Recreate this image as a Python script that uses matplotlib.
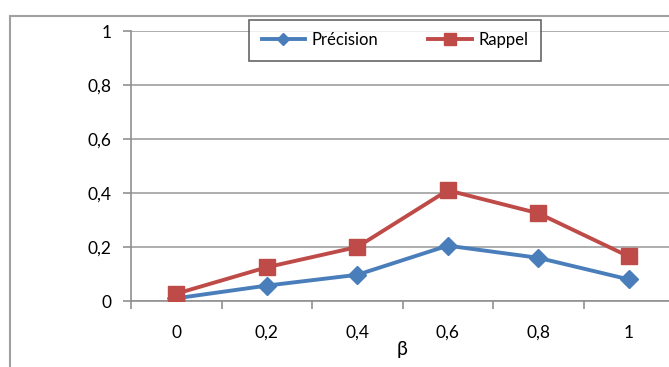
import numpy as np
import matplotlib
matplotlib.use("Agg")
import matplotlib.pyplot as plt
from matplotlib.patches import Rectangle

# data
beta_labels = ["0", "0,2", "0,4", "0,6", "0,8", "1"]
precision = [0.01, 0.057, 0.097, 0.205, 0.160, 0.080]
rappel = [0.027, 0.125, 0.200, 0.410, 0.325, 0.165]
y_ticks = [0, 0.2, 0.4, 0.6, 0.8, 1]
y_labels = ["0", "0,2", "0,4", "0,6", "0,8", "1"]

plt.rcParams['font.family'] = ['Lato', 'DejaVu Sans']

W, H = 669, 367
fig = plt.figure(figsize=(W / 100, H / 100), dpi=100)

# outer chart frame (cut off on the right and bottom)
fig.patches.append(Rectangle((10 / W, -0.1), 1.2, 1 - 16 / H + 0.1,
                             transform=fig.transFigure, fill=False,
                             edgecolor="#a0a0a0", linewidth=1.5))

ax = fig.add_axes([131 / W, (H - 301) / H, (674 - 131) / W, 270 / H])
x = np.arange(len(beta_labels))

blue = "#4a7ebb"
red = "#be4b48"
ax.plot(x, precision, color=blue, linewidth=2.8, marker="D", markersize=9,
        label="Précision", zorder=3)
ax.plot(x, rappel, color=red, linewidth=2.8, marker="s", markersize=11.5,
        label="Rappel", zorder=4)

ax.set_xlim(-0.5, len(beta_labels) - 0.5)
ax.set_ylim(0, 1)
ax.set_yticks(y_ticks)
ax.set_yticklabels(y_labels, fontsize=12.5)
ax.yaxis.grid(True, color="#a0a0a0", linewidth=1.2)
ax.set_axisbelow(True)

# category ticks between categories, labels at centres
ax.set_xticks(np.arange(len(beta_labels) + 1) - 0.5)
ax.set_xticklabels([])
ax.set_xticks(x, minor=True)
ax.set_xticklabels(beta_labels, minor=True, fontsize=12.5)
ax.tick_params(axis="x", which="major", length=6, color="#909090", width=1.2)
ax.tick_params(axis="x", which="minor", length=0, pad=17)
ax.tick_params(axis="y", length=6, color="#909090", width=1.2, pad=8)
ax.set_xlabel("β", fontsize=14, labelpad=0)

for s in ["top", "right"]:
    ax.spines[s].set_visible(False)
for s in ["left", "bottom"]:
    ax.spines[s].set_color("#909090")
    ax.spines[s].set_linewidth(1.2)

leg = fig.legend(loc="center", bbox_to_anchor=(395 / W, 1 - 40 / H), ncol=2,
                 fontsize=12, frameon=True, fancybox=False, handlelength=2.6,
                 columnspacing=3.0, borderpad=0.75, borderaxespad=0,
                 markerscale=0.7, handletextpad=0.4)
leg.get_frame().set_edgecolor("#404040")
leg.get_frame().set_linewidth(1.2)

fig.savefig("out.png", dpi=100)
